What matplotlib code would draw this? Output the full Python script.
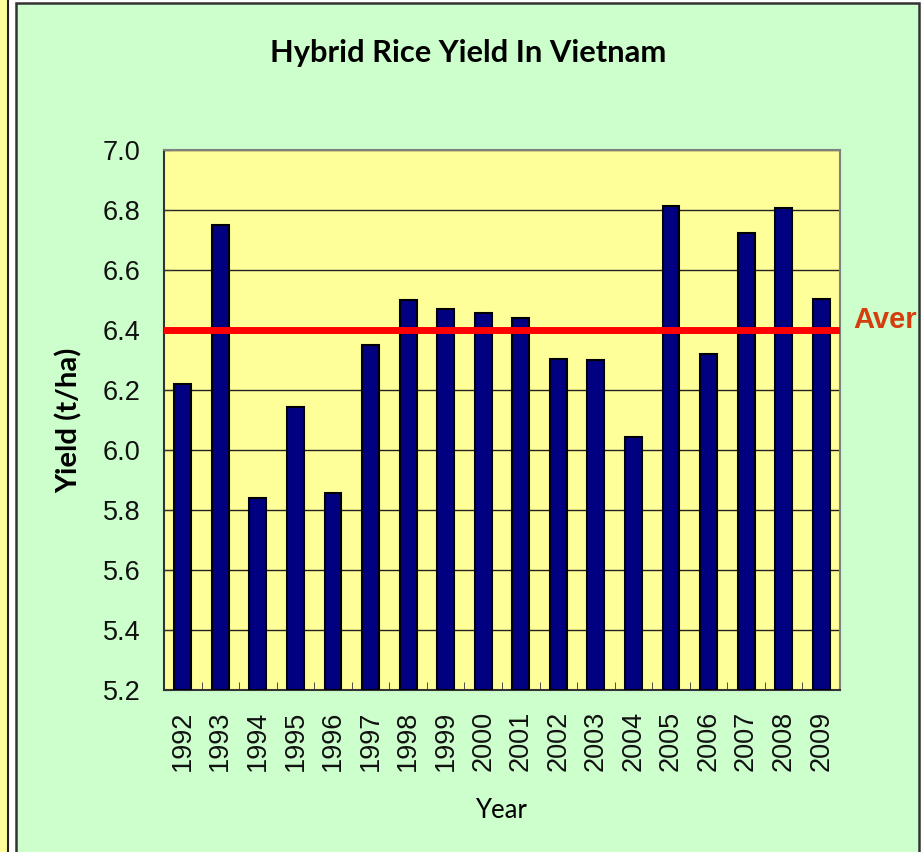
import matplotlib
matplotlib.use("Agg")
import matplotlib.pyplot as plt
from matplotlib.patches import Rectangle
from matplotlib.ticker import MultipleLocator, FixedLocator, FormatStrFormatter

years = ["1992", "1993", "1994", "1995", "1996", "1997", "1998", "1999", "2000",
         "2001", "2002", "2003", "2004", "2005", "2006", "2007", "2008", "2009"]
yields = [6.22, 6.75, 5.84, 6.143, 5.857, 6.35, 6.50, 6.47, 6.457,
          6.44, 6.303, 6.30, 6.043, 6.813, 6.32, 6.723, 6.807, 6.503]
average = 6.4

W, H = 921, 852
fig = plt.figure(figsize=(W / 100, H / 100), dpi=100)
fig.patch.set_facecolor("white")

# left yellow strip and green panel
strip = Rectangle((-0.01, -0.01), 8 / W + 0.01, 1.02, transform=fig.transFigure,
                  facecolor="#FFFF99", edgecolor="#222222", lw=1.5, zorder=-2)
panel = Rectangle((16 / W, -0.01), (919 - 16) / W, 1 - 3 / H + 0.01,
                  transform=fig.transFigure, facecolor="#CCFFCC",
                  edgecolor="#333333", lw=1.8, zorder=-2)
fig.patches.extend([strip, panel])

ax = fig.add_axes([164 / W, 1 - 690 / H, (840 - 164) / W, (690 - 150) / H])
ax.set_zorder(1)
ax.set_facecolor("#FFFF99")
x = list(range(len(years)))
ax.bar(x, [v - 5.2 for v in yields], bottom=5.2, width=0.45, color="#000080",
       edgecolor="black", linewidth=1.5, zorder=3)
ax.axhline(average, color="#FF0000", lw=5, zorder=4)

ax.set_xlim(-0.5, len(years) - 0.5)
ax.set_ylim(5.2, 7.0)
ax.yaxis.set_major_locator(MultipleLocator(0.2))
ax.yaxis.set_major_formatter(FormatStrFormatter("%.1f"))
ax.grid(axis="y", color="#222222", lw=1.0, zorder=1)
ax.set_axisbelow(True)

ax.set_xticks(x)
ax.set_xticklabels(years, rotation=90)
ax.xaxis.set_minor_locator(FixedLocator([i - 0.5 for i in range(len(years) + 1)]))
ax.tick_params(axis="x", which="major", length=0, pad=15)
ax.tick_params(axis="x", which="minor", length=6, direction="in", color="#333333")
ax.tick_params(axis="y", length=6, direction="in", pad=17, color="#333333")
for lab in ax.get_xticklabels() + ax.get_yticklabels():
    lab.set_fontfamily("Liberation Sans")
    lab.set_fontsize(19.5)
    lab.set_color("#111111")

for s in ["left", "bottom"]:
    ax.spines[s].set_color("#333333")
    ax.spines[s].set_linewidth(1.5)
for s in ["top", "right"]:
    ax.spines[s].set_color("#808080")
    ax.spines[s].set_linewidth(1.5)

fig.text(468 / W, 1 - 53 / H, "Hybrid Rice Yield In Vietnam", ha="center", va="center",
         fontsize=22.2, fontweight="bold", family="Lato", color="black")
fig.text(69 / W, 1 - 420 / H, "Yield (t/ha)", ha="center", va="center", rotation=90,
         fontsize=21.2, fontweight="bold", family="Lato", color="black")
fig.text(501 / W, 1 - 810 / H, "Year", ha="center", va="center",
         fontsize=18.5, family="Lato", color="black")
fig.text(853 / W, 1 - 320 / H, "Aver", ha="left", va="center",
         fontsize=21, fontweight="bold", family="Liberation Sans", color="#D43D0E")

fig.savefig("out.png", dpi=100, facecolor=fig.get_facecolor())
